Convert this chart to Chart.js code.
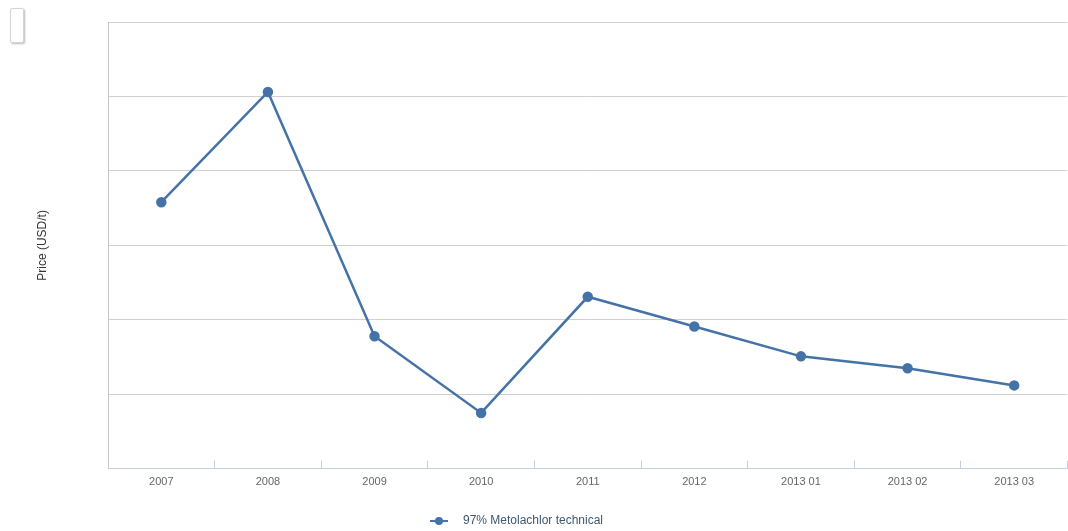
<!DOCTYPE html>
<html>
<head>
<meta charset="utf-8">
<script src="https://cdn.jsdelivr.net/npm/chart.js@4"></script>
<style>
  html, body { margin: 0; padding: 0; background: #fff; overflow: hidden; }
  #wrap { position: relative; width: 1068px; height: 531px; }
  #btn { position: absolute; left: 10px; top: 8px; width: 12px; height: 33px;
         border: 1px solid #d4d4d4; border-radius: 2px; box-shadow: 1px 1px 2px #bbb; background: #fff; }
</style>
</head>
<body>
<div id="wrap">
  <canvas id="myChart" width="1068" height="531"></canvas>
  <div id="btn"></div>
</div>
<script>
const categories = ['2007', '2008', '2009', '2010', '2011', '2012', '2013 01', '2013 02', '2013 03'];
const prices = [3580, 5060, 1780, 750, 2310, 1910, 1510, 1350, 1120];
const seriesName = '97% Metolachlor technical';
const lineColor = '#4572A7';

// legend symbol: short line with a dot (blank space on the right = gap before the text)
const legendIcon = document.createElement('canvas');
legendIcon.width = 27;
legendIcon.height = 10;
const ic = legendIcon.getContext('2d');
ic.strokeStyle = lineColor;
ic.lineWidth = 2;
ic.beginPath();
ic.moveTo(0, 5);
ic.lineTo(18, 5);
ic.stroke();
ic.fillStyle = lineColor;
ic.beginPath();
ic.arc(9, 5, 4, 0, Math.PI * 2);
ic.fill();

// in the original the plot runs a few px past the right edge,
// and the legend sits a bit left of the centre
const layoutTweak = {
  id: 'layoutTweak',
  afterLayout(chart) {
    const x = chart.scales.x;
    chart.chartArea.right += 6;
    chart.chartArea.width += 6;
    x.right += 6;
    x.width += 6;
    x.configure();
    chart.legend.right -= 35;
  }
};

const ctx = document.getElementById('myChart');
Chart.defaults.font.family = '"Liberation Sans", Arial, sans-serif';

const chart = new Chart(ctx, {
  type: 'line',
  data: {
    labels: categories,
    datasets: [{
      label: seriesName,
      data: prices,
      borderColor: lineColor,
      backgroundColor: lineColor,
      borderWidth: 2.5,
      pointRadius: 4,
      pointHoverRadius: 4,
      pointStyle: 'circle',
      tension: 0
    }]
  },
  options: {
    responsive: false,
    animation: false,
    layout: { padding: { top: 22, right: 0, left: 0, bottom: -6 } },
    scales: {
      x: {
        offset: true,
        grid: {
          display: true,
          offset: true,
          drawOnChartArea: false,
          tickLength: -8,
          color: '#C0D0E0'
        },
        border: { display: true, color: '#C0D0E0', width: 1 },
        ticks: { color: '#666', font: { size: 11 }, padding: 15, maxRotation: 0 },
        afterFit(scale) {
          scale.height += 6;
        }
      },
      y: {
        min: 0,
        max: 6000,
        ticks: { display: false, stepSize: 1000 },
        grid: { color: '#d0d0d0', drawTicks: false },
        border: { display: true, color: '#c8c8c8' },
        title: {
          display: true,
          text: 'Price (USD/t)',
          color: '#333',
          font: { size: 12 },
          padding: { top: 35, bottom: 58.6 }
        }
      }
    },
    plugins: {
      legend: {
        position: 'bottom',
        labels: {
          usePointStyle: true,
          pointStyle: legendIcon,
          pointStyleWidth: 27,
          color: '#3E576F',
          font: { size: 12 },
          padding: 5
        }
      },
      tooltip: { enabled: false }
    }
  },
  plugins: [layoutTweak]
});
</script>
</body>
</html>
